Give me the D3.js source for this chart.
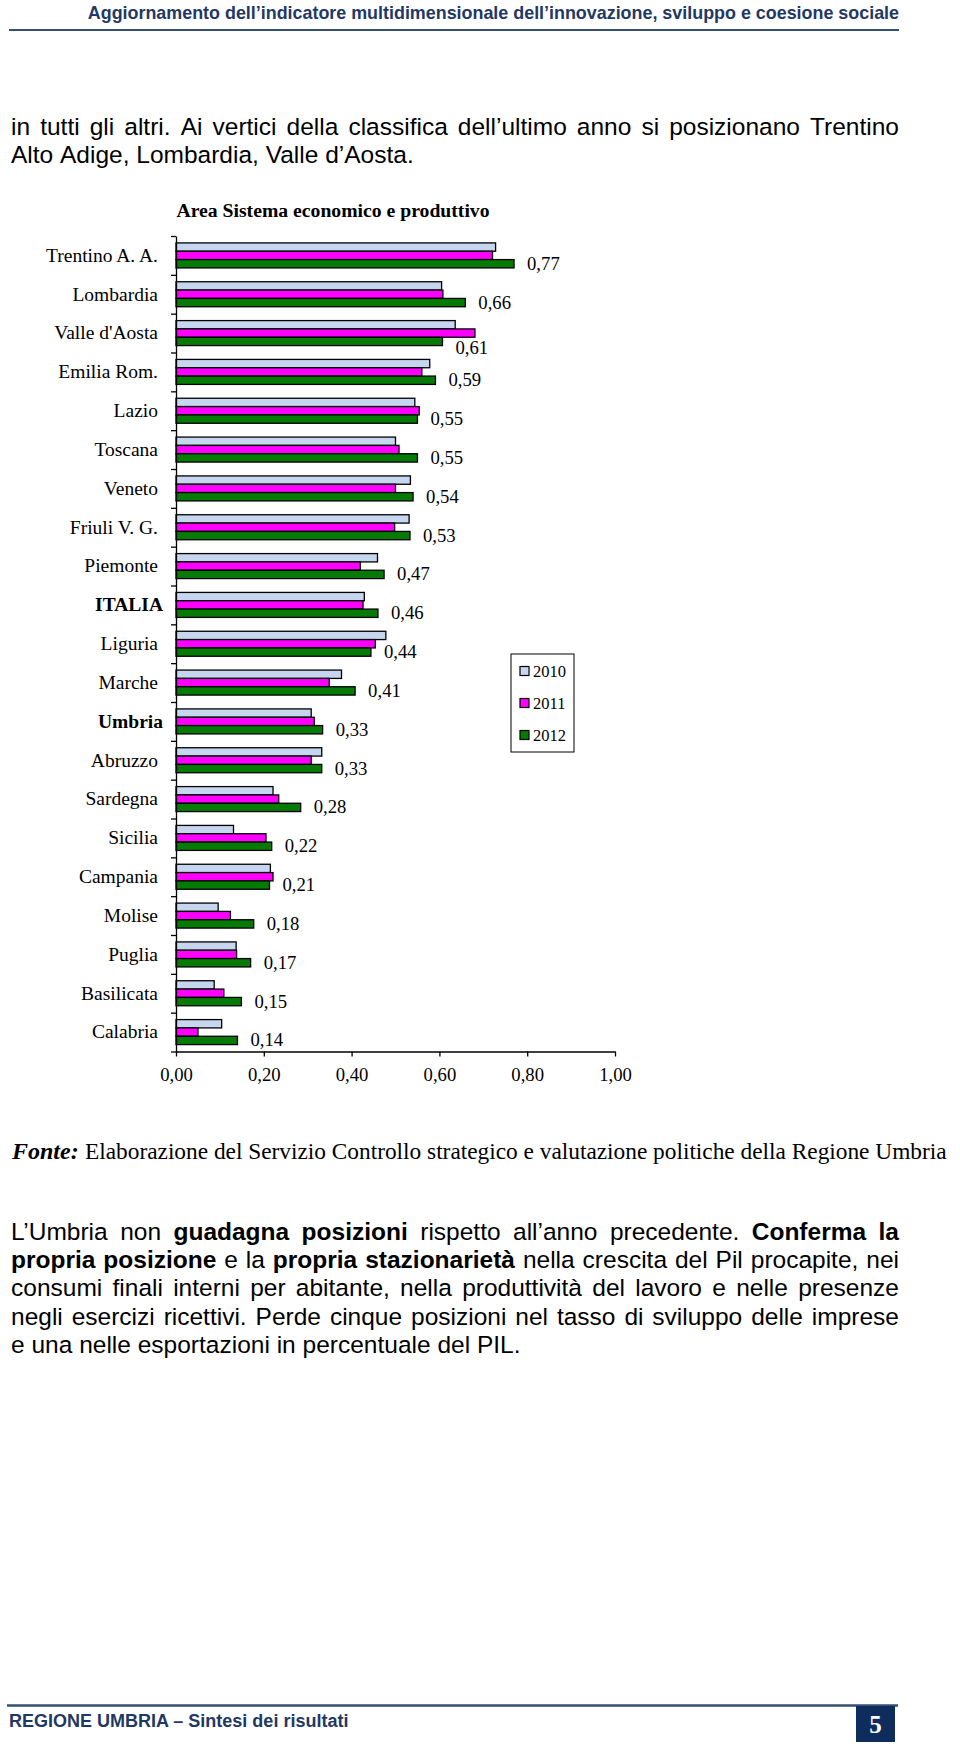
<!DOCTYPE html>
<html><head><meta charset="utf-8">
<script src="https://cdn.jsdelivr.net/npm/d3@7"></script>
<style>
html,body{margin:0;padding:0;background:#fff;}
svg{display:block;}
</style></head>
<body>
<svg id="page" width="960" height="1749"></svg>
<script>
// ---------------- DATA ----------------
const categories = ["Trentino A. A.","Lombardia","Valle d'Aosta","Emilia Rom.","Lazio","Toscana","Veneto","Friuli V. G.","Piemonte","ITALIA","Liguria","Marche","Umbria","Abruzzo","Sardegna","Sicilia","Campania","Molise","Puglia","Basilicata","Calabria"];
const boldCategories = ["ITALIA","Umbria"];
const years = ["2010","2011","2012"];
const values2010 = [0.728,0.605,0.636,0.578,0.544,0.500,0.534,0.531,0.459,0.429,0.478,0.377,0.308,0.332,0.221,0.131,0.215,0.096,0.137,0.087,0.104];
const values2011 = [0.721,0.608,0.681,0.560,0.554,0.508,0.500,0.498,0.420,0.426,0.454,0.349,0.315,0.308,0.234,0.205,0.221,0.124,0.138,0.109,0.050];
const values2012 = [0.770,0.659,0.607,0.591,0.550,0.550,0.540,0.533,0.474,0.460,0.444,0.408,0.334,0.332,0.284,0.218,0.213,0.177,0.170,0.149,0.140];
const xTicks = [0,0.2,0.4,0.6,0.8,1.0];
const chartTitle = "Area Sistema economico e produttivo";

const headerText = "Aggiornamento dell\u2019indicatore multidimensionale dell\u2019innovazione, sviluppo e coesione sociale";
const introLines = [
  [["in tutti gli altri. Ai vertici della classifica dell\u2019ultimo anno si posizionano Trentino",0]],
  [["Alto Adige, Lombardia, Valle d\u2019Aosta.",0]]
];
const sourceLabel = "Fonte:";
const sourceText = "Elaborazione del Servizio Controllo strategico e valutazione politiche della Regione Umbria";
const paraLines = [
  [["L\u2019Umbria non ",0],["guadagna posizioni",1],[" rispetto all\u2019anno precedente. ",0],["Conferma la",1]],
  [["propria posizione",1],[" e la ",0],["propria stazionariet\u00e0",1],[" nella crescita del Pil procapite, nei",0]],
  [["consumi finali interni per abitante, nella produttivit\u00e0 del lavoro e nelle presenze",0]],
  [["negli esercizi ricettivi. Perde cinque posizioni nel tasso di sviluppo delle imprese",0]],
  [["e una nelle esportazioni in percentuale del PIL.",0]]
];
const footerText = "REGIONE UMBRIA \u2013 Sintesi dei risultati";
const pageNumber = "5";

// ---------------- STYLE ----------------
const colors = ["#c6d6ee","#ff00ff","#057a05"];
const SERIF = "'Liberation Serif','Times New Roman',serif";
const SANS = "'Liberation Sans',Arial,sans-serif";
const NAVY = "#1f3864";
const LINE_H = 28.2;

const svg = d3.select("#page");

// ---------------- HEADER ----------------
svg.append("text").attr("x",899).attr("y",18.5).attr("text-anchor","end")
  .attr("font-family",SANS).attr("font-weight","bold").attr("font-size",17.9)
  .attr("fill",NAVY).text(headerText);
svg.append("line").attr("x1",9).attr("x2",899).attr("y1",30).attr("y2",30)
  .attr("stroke","#34506e").attr("stroke-width",2);

// justified-line helper
function drawLine(g, x0, baseline, width, segs, justify, size){
  const words = [];
  segs.forEach(([t,b])=>{
    t.split(" ").forEach(w=>{ if(w.length) words.push({w,b}); });
  });
  const tg = g.append("g");
  const els = words.map(o => tg.append("text").attr("y",baseline)
      .attr("font-family",SANS).attr("font-size",size)
      .attr("font-weight",o.b?"bold":"normal").attr("fill","#000").text(o.w));
  const widths = els.map(e=>e.node().getComputedTextLength());
  const sum = d3.sum(widths);
  const sp = size*0.278;
  const gap = justify && words.length>1 ? (width-sum)/(words.length-1) : sp;
  let cx = x0;
  els.forEach((e,i)=>{ e.attr("x",cx); cx += widths[i]+gap; });
}

introLines.forEach((ln,i)=> drawLine(svg, 11, 135+LINE_H*i, 888, ln, i<introLines.length-1, 24.5));

// ---------------- CHART ----------------
const X0=176, X1=615, YT=236, YB=1051.5;
const x = d3.scaleLinear().domain([0,1]).range([X0,X1]);
const y = d3.scaleBand().domain(categories).range([YT,YB]).padding(0);
const ys = d3.scaleBand().domain(years).range([0,y.bandwidth()]).paddingInner(0).paddingOuter(0.83);
const series = [values2010, values2011, values2012];
const rows = categories.map((c,i)=>({c, v: series.map(s=>s[i])}));
const fmt = v => d3.format(".2f")(v).replace(".",",");

const chart = svg.append("g");
chart.append("text").attr("x",333).attr("y",217).attr("text-anchor","middle")
  .attr("font-family",SERIF).attr("font-weight","bold").attr("font-size",19.7).text(chartTitle);

const groups = chart.selectAll("g.cat").data(rows).join("g").attr("class","cat")
  .attr("transform", d=>`translate(0,${y(d.c)})`);
groups.selectAll("rect").data(d=>d.v.map((v,j)=>({v, yr: years[j], j}))).join("rect")
  .attr("x", x(0)).attr("y", d=>ys(d.yr)).attr("width", d=>x(d.v)-x(0)).attr("height", ys.bandwidth())
  .attr("fill", d=>colors[d.j]).attr("stroke","#000").attr("stroke-width",1.3);

// value labels for last year
const LABEL_GAP = 13;
groups.append("text")
  .attr("x", d=>x(d.v[2])+LABEL_GAP)
  .attr("y", d=> ys("2012")+ys.bandwidth()/2 + 6 + (x(d.v[1]) > x(d.v[2])+LABEL_GAP ? 7 : 0))
  .attr("font-family",SERIF).attr("font-size",18.7).text(d=>fmt(d.v[2]));

// category labels
groups.append("text")
  .attr("x", d=> boldCategories.includes(d.c) ? 163 : 158)
  .attr("y", y.bandwidth()/2 + 6.4)
  .attr("text-anchor","end").attr("font-family",SERIF).attr("font-size",19.5)
  .attr("font-weight", d=> boldCategories.includes(d.c) ? "bold" : "normal")
  .text(d=>d.c);

// left axis with ticks on band boundaries
const yIdx = d3.scaleLinear().domain([0,categories.length]).range([YT,YB]);
const leftAxis = chart.append("g").attr("transform",`translate(${X0},0)`)
  .call(d3.axisLeft(yIdx).tickValues(d3.range(categories.length+1)).tickFormat("").tickSizeInner(5).tickSizeOuter(0));
// bottom axis
const bottomAxis = chart.append("g").attr("transform",`translate(0,${YB})`)
  .call(d3.axisBottom(x).tickValues(xTicks).tickFormat(fmt).tickSizeInner(5).tickSizeOuter(0).tickPadding(11.5));
[leftAxis,bottomAxis].forEach(a=>{
  a.selectAll("path,line").attr("stroke","#000").attr("stroke-width",1.3);
  a.selectAll("text").attr("font-family",SERIF).attr("font-size",18.7).attr("fill","#000");
});

// legend
const lg = chart.append("g");
lg.append("rect").attr("x",511).attr("y",654).attr("width",63).attr("height",98)
  .attr("fill","#fff").attr("stroke","#000").attr("stroke-width",1);
years.forEach((yr,i)=>{
  const cy = 671 + i*32;
  lg.append("rect").attr("x",520).attr("y",cy-4.5).attr("width",9).attr("height",9)
    .attr("fill",colors[i]).attr("stroke","#000").attr("stroke-width",1.2);
  lg.append("text").attr("x",533).attr("y",cy+5.8).attr("font-family",SERIF).attr("font-size",16.5).text(yr);
});

// ---------------- SOURCE ----------------
svg.append("text").attr("x",12).attr("y",1159).attr("font-family",SERIF).attr("font-size",24)
  .attr("font-weight","bold").attr("font-style","italic").text(sourceLabel);
const src = svg.append("text").attr("x",85).attr("y",1159).attr("font-family",SERIF).attr("font-size",24)
  .text(sourceText);
// fit the source line into the available width by adjusting the font size
const srcTarget = 862;
const srcNat = src.node().getComputedTextLength();
if (srcNat > 0) src.attr("font-size", Math.min(24, 24*srcTarget/srcNat));

// ---------------- PARAGRAPH ----------------
paraLines.forEach((ln,i)=> drawLine(svg, 11, 1240+LINE_H*i, 888, ln, i<paraLines.length-1, 24.5));

// ---------------- FOOTER ----------------
svg.append("line").attr("x1",7).attr("x2",898).attr("y1",1705.5).attr("y2",1705.5)
  .attr("stroke","#34506e").attr("stroke-width",2.5);
svg.append("text").attr("x",9).attr("y",1726.5).attr("font-family",SANS).attr("font-weight","bold")
  .attr("font-size",18).attr("fill",NAVY).text(footerText);
svg.append("rect").attr("x",856).attr("y",1706).attr("width",39).attr("height",36).attr("fill","#0e2d5c");
svg.append("text").attr("x",875.5).attr("y",1732.5).attr("text-anchor","middle").attr("font-family",SERIF)
  .attr("font-weight","bold").attr("font-size",25).attr("fill","#fff").text(pageNumber);
</script>
</body></html>
